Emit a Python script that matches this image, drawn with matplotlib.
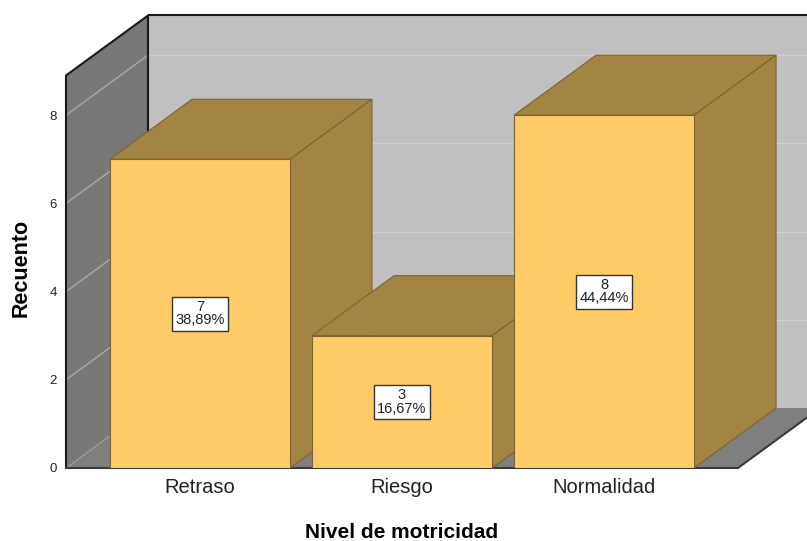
import numpy as np
import matplotlib.pyplot as plt
from matplotlib.patches import Polygon

categorias = ["Retraso", "Riesgo", "Normalidad"]
recuento = [7, 3, 8]
porcentaje = ["38,89%", "16,67%", "44,44%"]
yticks = [0, 2, 4, 6, 8]

plt.rcParams['font.family'] = ['Liberation Sans', 'DejaVu Sans']

W, H = 807, 541
fig = plt.figure(figsize=(W / 100, H / 100), dpi=100)
# front plane of the 3d box, in pixels
left, right, bottom, top = 66, 738, 468, 75.5
ax = fig.add_axes([left / W, 1 - bottom / H, (right - left) / W, (bottom - top) / H])

xmin, xmax = -0.663, 2.663
ymax = 8.9
ax.set_xlim(xmin, xmax)
ax.set_ylim(0, ymax)

# depth offset in data units (82 px right, 60 px up)
dx = 82 / ((right - left) / (xmax - xmin))
dy = 60 / ((bottom - top) / ymax)

cara = '#FECB66'
oscuro = '#A38442'
borde = '#7d6433'

def poly(pts, fc, ec='none', lw=0, z=1):
    p = Polygon(pts, closed=True, facecolor=fc, edgecolor=ec, linewidth=lw,
                zorder=z, clip_on=False)
    ax.add_patch(p)

# back wall, left wall, floor
poly([(xmin + dx, dy), (xmax + dx, dy), (xmax + dx, ymax + dy), (xmin + dx, ymax + dy)], '#C0C0C0', z=0.5)
poly([(xmin, 0), (xmin + dx, dy), (xmin + dx, ymax + dy), (xmin, ymax)], '#787878', z=0.6)
poly([(xmin, 0), (xmax, 0), (xmax + dx, dy), (xmin + dx, dy)], '#7F7F7F', z=0.6)

# grid lines
for v in yticks:
    if v > 0:
        ax.plot([xmin + dx, xmax + dx], [v + dy, v + dy], color='#CFCFCF', lw=1, zorder=0.7, clip_on=False)
        ax.plot([xmin, xmin + dx], [v, v + dy], color='#A9A9A9', lw=1, zorder=0.7, clip_on=False)
    else:
        ax.plot([xmin, xmin + dx], [v, v + dy], color='#A0A0A0', lw=1, ls=(0, (2, 1)), zorder=0.7, clip_on=False)

# wall outlines
k = dict(color='#1a1a1a', lw=1.5, zorder=0.8, clip_on=False, solid_capstyle='butt')
ax.plot([xmin, xmin, xmin + dx, xmin + dx], [0, ymax, ymax + dy, dy], **k)
ax.plot([xmin + dx, xmax + dx + 0.2], [ymax + dy, ymax + dy], **k)
ax.plot([xmin, xmax, xmax + dx], [0, 0, dy], color='#3a3a3a', lw=1.5, zorder=0.8, clip_on=False)

# bars
ancho = 0.891
x = np.arange(len(categorias))
barras = ax.bar(x, recuento, width=ancho, color=cara, edgecolor=borde, linewidth=0.8, zorder=3)
for i, (b, v) in enumerate(zip(barras, recuento)):
    x0 = b.get_x()
    x1 = x0 + b.get_width()
    z = 2 + i * 2
    b.set_zorder(z + 1)
    poly([(x0, v), (x1, v), (x1 + dx, v + dy), (x0 + dx, v + dy)], oscuro, borde, 0.8, z)
    poly([(x1, 0), (x1 + dx, dy), (x1 + dx, v + dy), (x1, v)], oscuro, borde, 0.8, z)
    ax.text(i, v / 2, f"{v}\n{porcentaje[i]}", ha='center', va='center', fontsize=10.5,
            linespacing=0.95, color='#222222', zorder=20,
            bbox=dict(boxstyle='square,pad=0.22', facecolor='white', edgecolor='#333333', linewidth=1))

for s in ax.spines.values():
    s.set_visible(False)
ax.set_yticks(yticks)
ax.set_xticks(x)
ax.set_xticklabels(categorias, fontsize=14.5, color='#222222')
ax.tick_params(axis='y', length=0, pad=6.5, labelsize=9.5, labelcolor='#222222')
ax.tick_params(axis='x', length=0, pad=7)
ax.set_facecolor('none')

ax.set_xlabel("Nivel de motricidad", fontsize=15, fontweight='bold')
ax.xaxis.label.set_va('center')
ax.xaxis.set_label_coords(0.5, (bottom - 533) / (bottom - top))
ax.set_ylabel("Recuento", fontsize=15.5, fontweight='bold')
ax.yaxis.label.set_va('center')
ax.yaxis.set_label_coords((21 - left) / (right - left), (bottom - 268) / (bottom - top))

fig.savefig("out.png", dpi=100)
